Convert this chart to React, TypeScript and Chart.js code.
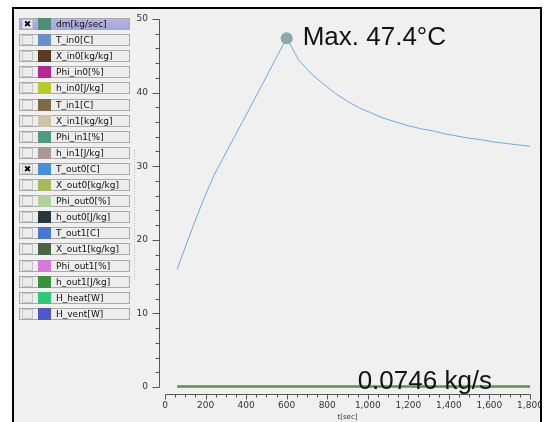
import React, { useEffect, useRef } from 'react';
import { Chart, registerables } from 'chart.js';

Chart.register(...registerables);

// ---- data ----
const TIMES = [60, 120, 180, 240, 300, 360, 420, 480, 540, 600, 660, 720, 780, 840, 900, 960, 1020, 1080, 1140, 1200, 1260, 1320, 1380, 1440, 1500, 1560, 1620, 1680, 1740, 1800];
const T_OUT0 = [16.0, 20.5, 24.8, 28.7, 31.8, 34.9, 38.0, 41.1, 44.3, 47.4, 44.4, 42.6, 41.2, 39.9, 38.8, 37.9, 37.2, 36.5, 36.0, 35.5, 35.1, 34.8, 34.4, 34.1, 33.8, 33.6, 33.3, 33.1, 32.9, 32.7];
const DM = [0.0746, 0.0746, 0.0746, 0.0746, 0.0746, 0.0746, 0.0746, 0.0746, 0.0746, 0.0746, 0.0746, 0.0746, 0.0746, 0.0746, 0.0746, 0.0746, 0.0746, 0.0746, 0.0746, 0.0746, 0.0746, 0.0746, 0.0746, 0.0746, 0.0746, 0.0746, 0.0746, 0.0746, 0.0746, 0.0746];

const X_MIN = 0;
const X_MAX = 1800;
const X_STEP = 200;
const X_MINOR = 50;
const Y_MIN = 0;
const Y_MAX = 50;
const Y_STEP = 10;
const Y_MINOR = 2;
const X_TITLE = 't[sec]';

const LEGEND_NAMES = ['dm[kg/sec]', 'T_in0[C]', 'X_in0[kg/kg]', 'Phi_in0[%]', 'h_in0[J/kg]', 'T_in1[C]', 'X_in1[kg/kg]', 'Phi_in1[%]', 'h_in1[J/kg]', 'T_out0[C]', 'X_out0[kg/kg]', 'Phi_out0[%]', 'h_out0[J/kg]', 'T_out1[C]', 'X_out1[kg/kg]', 'Phi_out1[%]', 'h_out1[J/kg]', 'H_heat[W]', 'H_vent[W]'];
const LEGEND_COLORS = ['#4f8f7a', '#6a90c8', '#5a3a22', '#b02890', '#b8c832', '#7a6a4a', '#cdc3a8', '#4f9a80', '#a89a92', '#4a90d8', '#a8b860', '#b2d0a2', '#283838', '#4a78d0', '#4a6448', '#d878d8', '#3a903c', '#30c878', '#5058c8'];
const LEGEND_CHECKED = [true, false, false, false, false, false, false, false, false, true, false, false, false, false, false, false, false, false, false];
const LEGEND_SELECTED = 0;

const AXIS_COLOR = '#555555';
const TICK_COLOR = '#333333';

const peakIndex = T_OUT0.indexOf(Math.max(...T_OUT0));

const axesPlugin = {
  id: 'customAxes',
  afterDraw(chart: any) {
    const ctx = chart.ctx;
    const xs = chart.scales.x;
    const ys = chart.scales.y;
    ctx.save();
    ctx.strokeStyle = AXIS_COLOR;
    ctx.lineWidth = 1;
    const seg = (x1: number, y1: number, x2: number, y2: number) => {
      ctx.beginPath();
      ctx.moveTo(x1, y1);
      ctx.lineTo(x2, y2);
      ctx.stroke();
    };
    // y axis (offset left of the plot)
    const yx = Math.round(chart.chartArea.left - 6) + 0.5;
    const yTop = Math.round(ys.getPixelForValue(Y_MAX)) + 0.5;
    const yBot = Math.round(ys.getPixelForValue(Y_MIN)) + 0.5;
    seg(yx, yTop, yx, yBot);
    for (let v = Y_MIN; v <= Y_MAX + 1e-9; v += Y_MINOR) {
      const py = Math.round(ys.getPixelForValue(v)) + 0.5;
      const len = Math.abs(v % Y_STEP) < 1e-9 ? 7 : 4;
      seg(yx - len, py, yx, py);
    }
    // x axis (offset below the plot)
    const xy = Math.round(chart.chartArea.bottom + 7) + 0.5;
    const xl = Math.round(xs.getPixelForValue(X_MIN)) + 0.5;
    const xr = Math.round(xs.getPixelForValue(X_MAX)) + 0.5;
    seg(xl, xy, xr, xy);
    for (let v = X_MIN; v <= X_MAX + 1e-9; v += X_MINOR) {
      const px = Math.round(xs.getPixelForValue(v)) + 0.5;
      const len = Math.abs(v % X_STEP) < 1e-9 ? 5 : 3;
      seg(px, xy, px, xy + len);
    }
    ctx.restore();
  },
};

const annotationPlugin = {
  id: 'annotations',
  afterDatasetsDraw(chart: any) {
    const ctx = chart.ctx;
    const xs = chart.scales.x;
    const ys = chart.scales.y;
    ctx.save();
    ctx.fillStyle = '#111111';
    ctx.font = '26px "Liberation Sans", Arial, sans-serif';
    ctx.textAlign = 'left';
    ctx.textBaseline = 'alphabetic';
    const px = xs.getPixelForValue(TIMES[peakIndex]);
    const py = ys.getPixelForValue(T_OUT0[peakIndex]);
    ctx.fillText(`Max. ${T_OUT0[peakIndex].toFixed(1)}°C`, px + 16, py + 7);
    const dmY = ys.getPixelForValue(DM[DM.length - 1]);
    ctx.fillText(`${DM[DM.length - 1]} kg/s`, xs.getPixelForValue(950), dmY + 2.5);
    ctx.restore();
  },
};

function Legend() {
  return (
    <>
      {LEGEND_NAMES.map((name, i) => {
        const top = Math.round(18 + 16.1 * i);
        const selected = i === LEGEND_SELECTED;
        return (
          <div
            key={name}
            style={{
              position: 'absolute',
              left: 19,
              top,
              width: 109,
              height: 10,
              border: '1px solid #a9a9a9',
              background: selected ? 'linear-gradient(#b4b4e6, #a6a6dc)' : '#ededed',
            }}
          >
            <div
              style={{
                position: 'absolute',
                left: 2,
                top: 0,
                width: 9,
                height: 8,
                border: '1px solid #c6c6c6',
                background: selected ? '#e6e6f4' : '#ececec',
                fontSize: 9,
                lineHeight: '8px',
                textAlign: 'center',
                fontFamily: '"DejaVu Sans", sans-serif',
                fontWeight: 'bold',
                color: '#000',
              }}
            >
              {LEGEND_CHECKED[i] ? '✖' : ''}
            </div>
            <div
              style={{
                position: 'absolute',
                left: 18,
                top: -1,
                width: 13,
                height: 12,
                background: LEGEND_COLORS[i],
              }}
            />
            <div
              style={{
                position: 'absolute',
                left: 36,
                top: -1,
                height: 12,
                lineHeight: '12px',
                fontSize: 9,
                fontFamily: '"DejaVu Sans", sans-serif',
                color: '#111',
                whiteSpace: 'nowrap',
              }}
            >
              {name}
            </div>
          </div>
        );
      })}
    </>
  );
}

export default function App() {
  const canvasRef = useRef<HTMLCanvasElement | null>(null);

  useEffect(() => {
    if (!canvasRef.current) return;
    const fixX = (scale: any) => {
      scale.height = 35;
      scale.paddingLeft = 0;
      scale.paddingRight = 0;
      scale.paddingTop = 0;
      scale.paddingBottom = 0;
    };
    const fixY = (scale: any) => {
      scale.width = 30;
      scale.paddingLeft = 0;
      scale.paddingRight = 0;
      scale.paddingTop = 0;
      scale.paddingBottom = 0;
    };
    const chart = new Chart(canvasRef.current, {
      type: 'line',
      data: {
        datasets: [
          {
            label: 'T_out0[C]',
            data: TIMES.map((t, i) => ({ x: t, y: T_OUT0[i] })),
            borderColor: '#72a8de',
            borderWidth: 1,
            pointRadius: (c: any) => (c.dataIndex === peakIndex ? 6 : 0),
            pointHoverRadius: 0,
            pointBackgroundColor: '#8fa8a6',
            pointBorderWidth: 0,
            tension: 0,
            clip: false,
          },
          {
            label: 'dm[kg/sec]',
            data: TIMES.map((t, i) => ({ x: t, y: DM[i] })),
            borderColor: '#5f8f4a',
            borderWidth: 2.5,
            pointRadius: 0,
            tension: 0,
            clip: false,
          },
        ],
      },
      options: {
        animation: false,
        responsive: false,
        devicePixelRatio: 1,
        locale: 'en-US',
        layout: { padding: { left: 121, right: 10, top: 10, bottom: 0 } },
        plugins: {
          legend: { display: false },
          tooltip: { enabled: false },
        },
        scales: {
          x: {
            type: 'linear',
            min: X_MIN,
            max: X_MAX,
            afterFit: fixX,
            grid: { display: false, drawTicks: false },
            border: { display: false },
            ticks: {
              stepSize: X_STEP,
              padding: 13,
              maxRotation: 0,
              autoSkip: false,
              color: TICK_COLOR,
              font: { family: '"DejaVu Sans", sans-serif', size: 9 },
            },
            title: {
              display: true,
              text: X_TITLE,
              color: TICK_COLOR,
              padding: { top: 0, bottom: 1 },
              font: { family: '"DejaVu Sans", sans-serif', size: 7 },
            },
          },
          y: {
            type: 'linear',
            min: Y_MIN,
            max: Y_MAX,
            afterFit: fixY,
            grid: { display: false, drawTicks: false },
            border: { display: false },
            ticks: {
              stepSize: Y_STEP,
              padding: 17,
              color: TICK_COLOR,
              font: { family: '"DejaVu Sans", sans-serif', size: 9 },
            },
          },
        },
      },
      plugins: [axesPlugin, annotationPlugin],
    } as any);
    return () => chart.destroy();
  }, []);

  return (
    <div style={{ position: 'fixed', left: 0, top: 0, width: 544, height: 422, background: '#ffffff', overflow: 'hidden' }}>
      <div
        style={{
          position: 'absolute',
          left: 12,
          top: 7,
          width: 526,
          height: 413,
          borderTop: '2px solid #000',
          borderLeft: '2px solid #000',
          borderRight: '2px solid #000',
          background: '#f0f0f0',
          overflow: 'hidden',
        }}
      >
        <canvas ref={canvasRef} width={526} height={413} style={{ position: 'absolute', left: 0, top: 0, width: 526, height: 413 }} />
      </div>
      <Legend />
      <div style={{ position: 'absolute', left: 134, top: 150, height: 130, borderLeft: '1px dotted #c4c4c4' }} />
    </div>
  );
}
